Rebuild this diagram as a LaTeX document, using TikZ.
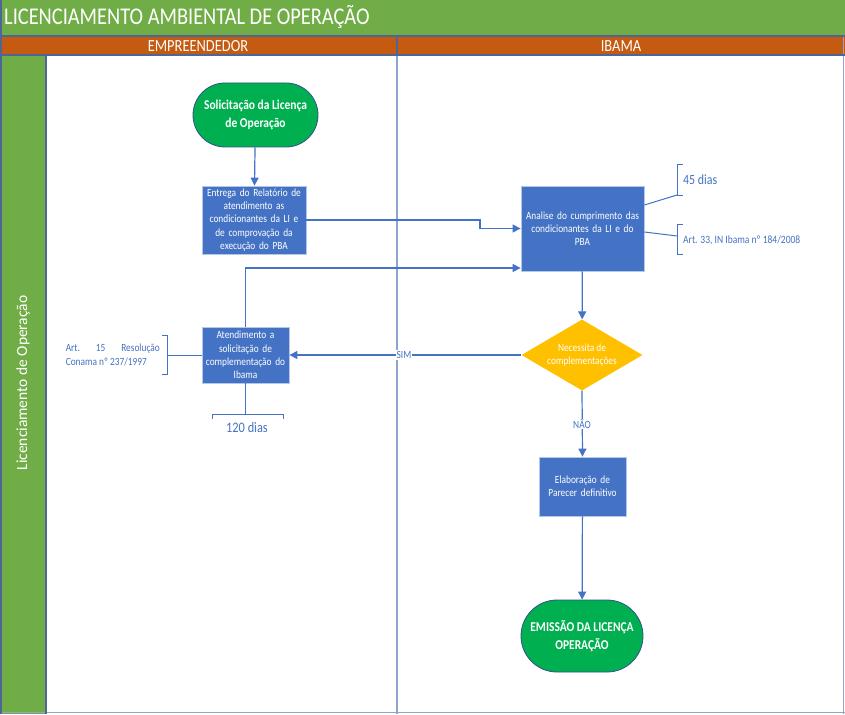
\documentclass[tikz,border=0pt]{standalone}
\usepackage{fontspec}
\setmainfont[FakeStretch=0.85]{Carlito}
\newfontfamily\plainfont{Carlito}
\usetikzlibrary{shapes.geometric,arrows.meta}
\definecolor{tgreen}{HTML}{70AD47}
\definecolor{torange}{HTML}{C55A11}
\definecolor{tblue}{HTML}{4472C4}
\definecolor{sgreen}{HTML}{00B050}
\definecolor{gold}{HTML}{FFC000}
\definecolor{frame}{HTML}{4E6597}
\definecolor{lane}{HTML}{8FA5D0}
\definecolor{boxedge}{HTML}{B4C7E7}
\definecolor{termedge}{HTML}{2F528F}
\newcommand{\fs}[2]{\fontsize{#1}{#2}\selectfont}
\tikzset{
  arr/.style={draw=tblue, line width=1.2pt, -{Triangle[length=8pt,width=8pt]}},
  conn/.style={draw=tblue, line width=1.2pt},
  brk/.style={draw=tblue, line width=1pt},
  procbox/.style={draw=boxedge, line width=0.8pt, fill=tblue, text=white, align=center, inner sep=0pt, font=\fs{11}{13.3}},
  term/.style={draw=termedge, line width=0.8pt, fill=sgreen, text=white, align=center, inner sep=0pt, font=\bfseries\fs{13.5}{18}},
  note/.style={text=tblue, inner sep=0pt},
}
\begin{document}
\begin{tikzpicture}[x=1pt,y=-1pt]
\useasboundingbox (0,0) rectangle (845,714);
% background bands
\fill[white] (0,0) rectangle (845,714);
\fill[tgreen] (0,0) rectangle (845,36);
\fill[torange] (0,36) rectangle (845,55);
\fill[tgreen] (0,55) rectangle (46,714);
\draw[lane, line width=1.5pt] (397,55) -- (397,714);
\draw[lane, line width=1.5pt] (843.5,36) -- (843.5,714);
\draw[lane, line width=1.5pt] (0,712.5) -- (845,712.5);
\draw[frame, line width=1.5pt] (0,36) -- (845,36);
\draw[frame, line width=1.5pt] (0,55) -- (845,55);
\draw[frame, line width=1.5pt] (1,0) -- (1,714);
\draw[frame, line width=1.5pt] (46,55) -- (46,714);
\draw[frame, line width=1.5pt] (397,36) -- (397,55);

\node[anchor=west, text=white, inner sep=0pt, font=\fs{24}{24}] (title) at (4,17) {LICENCIAMENTO AMBIENTAL DE OPERAÇÃO};
\node[text=white, inner sep=0pt, font=\fs{17}{17}] (emp) at (198,46) {EMPREENDEDOR};
\node[text=white, inner sep=0pt, font=\fs{17}{17}] (ibama) at (621,46) {IBAMA};
\node[text=white, inner sep=0pt, rotate=90, font=\plainfont\fs{15.5}{16}] (lane) at (23,383) {Licenciamento de Operação};

% nodes
\node[term, minimum width=125pt, minimum height=64pt, rounded corners=32pt] (start) at (255.5,115) {Solicitação da Licença\\de Operação};
\node[procbox, minimum width=104pt, minimum height=68pt, text width=100pt] (b1) at (254,220) {Entrega do Relatório de\\atendimento as\\condicionantes da LI e\\de comprovação da\\execução do PBA};
\node[procbox, minimum width=123pt, minimum height=85pt, text width=119pt] (b2) at (582.5,228.5) {Analise do cumprimento das\\condicionantes da LI e do\\PBA};
\node[diamond, draw=none, fill=gold, text=white, align=center, inner sep=0pt, minimum width=121pt, minimum height=71pt, aspect=1.7, font=\fs{11}{13.3}] (dec) at (582,355) {Necessita de\\complementações};
\node[procbox, minimum width=87pt, minimum height=56pt, text width=85pt] (b3) at (245.5,355) {Atendimento a\\solicitação de\\complementação do\\Ibama};
\node[procbox, minimum width=87pt, minimum height=59pt, text width=85pt] (b4) at (582.5,486.5) {Elaboração de\\Parecer definitivo};
\node[term, minimum width=122pt, minimum height=72pt, rounded corners=36pt] (end) at (582,636) {EMISSÃO DA LICENÇA\\OPERAÇÃO};

% connectors
\draw[arr] (start) -- (b1);
\coordinate (j1) at (480,220);
\draw[arr] (b1.east |- j1) -- (j1) -- (j1 |- b2.west) -- (b2.west);
\coordinate (j2) at (245.5,268);
\draw[arr] (b3.north) -- (j2) -- (b2.west |- j2);
\draw[arr] (b2) -- (dec);
\draw[arr] (dec.west) -- (b3.east);
\node[note, fill=white, inner sep=1pt, font=\fs{11}{11}] (sim) at (404,355) {SIM};
\draw[arr] (dec.south) -- (b4.north);
\node[note, fill=white, inner sep=1pt, font=\fs{11}{11}] (nao) at (582,424) {NÃO};
\draw[arr] (b4) -- (end);

% annotation 45 dias
\coordinate (a45) at (677,195);
\draw[brk] (683,165) -- (677,165) -- (677,195) -- (683,195);
\draw[conn, line width=1pt] (b2.north east |- 0,205) -- (a45);
\node[note, anchor=west, font=\fs{14}{14}] (d45) at (683,180) {45 dias};
% annotation art 33
\coordinate (a33) at (677,236);
\draw[brk] (683,224) -- (677,224) -- (677,254) -- (683,254);
\draw[conn, line width=1pt] (b2.east |- 0,232) -- (a33);
\node[note, anchor=west, font=\fs{11.2}{11.2}] (art33) at (683,240) {Art. 33, IN Ibama nº 184/2008};
% annotation art 15
\coordinate (a15) at (167,355);
\draw[brk] (162,335) -- (167,335) -- (167,374) -- (162,374);
\draw[conn, line width=1pt] (b3.west) -- (a15);
\node[note, anchor=east, text width=94pt, align=justify, font=\fs{11}{13.3}] (art15) at (160,355) {Art.\ 15 Resolução\linebreak Conama nº 237/1997};
% annotation 120 dias
\coordinate (a120) at (245.5,414);
\draw[brk] (212,419) -- (212,414) -- (283,414) -- (283,419);
\draw[conn, line width=1pt] (b3.south) -- (a120);
\node[note, font=\fs{14.5}{14.5}] (d120) at (247,428) {120 dias};
\end{tikzpicture}
\end{document}
